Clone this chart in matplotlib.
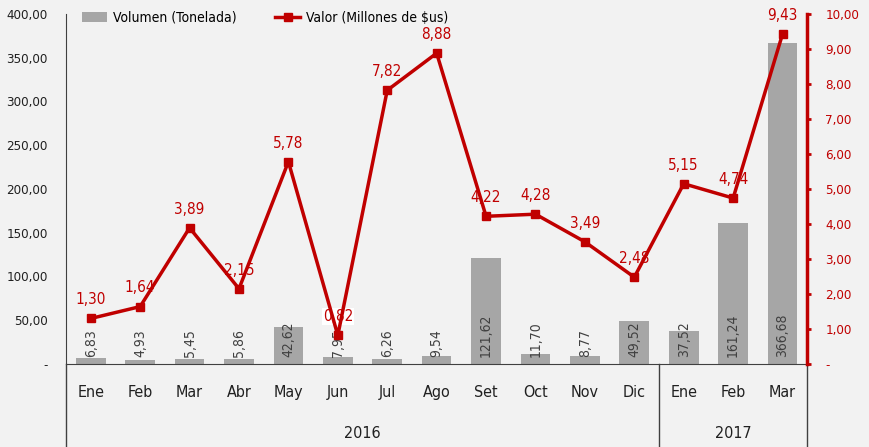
import matplotlib.pyplot as plt
from matplotlib.lines import Line2D
from matplotlib.ticker import FixedLocator, FuncFormatter

plt.rcParams['font.family'] = ['DejaVu Sans']
plt.rcParams['font.stretch'] = 'condensed'

meses = ['Ene', 'Feb', 'Mar', 'Abr', 'May', 'Jun', 'Jul', 'Ago', 'Set', 'Oct', 'Nov', 'Dic',
         'Ene', 'Feb', 'Mar']
anios = ['2016', '2017']
meses_por_anio = [12, 3]
volumen = [6.83, 4.93, 5.45, 5.86, 42.62, 7.95, 6.26, 9.54, 121.62, 11.70, 8.77, 49.52,
           37.52, 161.24, 366.68]
valor = [1.30, 1.64, 3.89, 2.15, 5.78, 0.82, 7.82, 8.88, 4.22, 4.28, 3.49, 2.48,
         5.15, 4.74, 9.43]

fondo = '#f2f2f2'
rojo = '#c00000'
gris = '#a6a6a6'
linea = '#404040'


def coma(v, pos=None):
    if v == 0:
        return '-'
    return f'{v:,.2f}'.replace(',', 'X').replace('.', ',').replace('X', '.')


fig = plt.figure(figsize=(8.7, 4.47), dpi=100, facecolor=fondo)
ax = fig.add_axes([0.0759, 0.1857, 0.852, 0.7830], facecolor=fondo)
ax2 = ax.twinx()

x = list(range(len(meses)))
ax.bar(x, volumen, width=0.6, color=gris, zorder=2, label='Volumen (Tonelada)')
for xi, v in zip(x, volumen):
    ax.text(xi, 8, coma(v), rotation=90, ha='center', va='bottom', fontsize=10,
            color='#404040', zorder=3)

ax.set_xlim(-0.5, len(meses) - 0.5)
ax.set_ylim(0, 400)
ax.yaxis.set_major_locator(FixedLocator(range(0, 401, 50)))
ax.yaxis.set_major_formatter(FuncFormatter(coma))
ax.tick_params(axis='y', length=0, pad=13, labelsize=9.5, colors='#202020')
ax.set_xticks(x)
ax.set_xticklabels(meses, fontsize=11.5)
ax.tick_params(axis='x', length=0, pad=15, colors='#202020')
for s in ['top', 'right']:
    ax.spines[s].set_visible(False)
ax.spines['left'].set_color(linea)
ax.spines['bottom'].set_color(linea)

ax2.plot(x, valor, color=rojo, lw=2.5, marker='s', markersize=6, zorder=4,
         label='Valor (Millones de $us)')
for xi, v in zip(x, valor):
    ax2.annotate(coma(v), (xi, v), xytext=(0, 8), textcoords='offset points',
                 ha='center', va='bottom', fontsize=11, color=rojo,
                 bbox=dict(boxstyle='square,pad=0.05', fc='white', ec='none',
                           alpha=1 if v < 1 else 0))
ax2.set_ylim(0, 10)
ax2.yaxis.set_major_locator(FixedLocator(range(0, 11)))
ax2.yaxis.set_major_formatter(FuncFormatter(coma))
ax2.tick_params(axis='y', colors=rojo, labelcolor=rojo, length=3, width=2,
                pad=10, labelsize=9.5)
for s in ['top', 'left', 'bottom']:
    ax2.spines[s].set_visible(False)
ax2.spines['right'].set_color(rojo)
ax2.spines['right'].set_linewidth(2.5)

# separadores de la escala de categorías (meses / años)
trans = ax.get_xaxis_transform()
bordes = [-0.5]
for n in meses_por_anio:
    bordes.append(bordes[-1] + n)
for b in bordes:
    ax.add_line(Line2D([b, b], [0, -0.24], transform=trans, color=linea, lw=1,
                       clip_on=False))
for i, a in enumerate(anios):
    ax.text((bordes[i] + bordes[i + 1]) / 2, -0.2, a, transform=trans,
            ha='center', va='center', fontsize=11.5, color='#202020')

h1, l1 = ax.get_legend_handles_labels()
h2, l2 = ax2.get_legend_handles_labels()
ax2.legend(h1 + h2, l1 + l2, loc='upper left', bbox_to_anchor=(0.005, 1.045),
           ncol=2, frameon=False, fontsize=10, columnspacing=2.8,
           handlelength=1.8, handletextpad=0.4)

fig.savefig('out.png', dpi=100, facecolor=fondo)
